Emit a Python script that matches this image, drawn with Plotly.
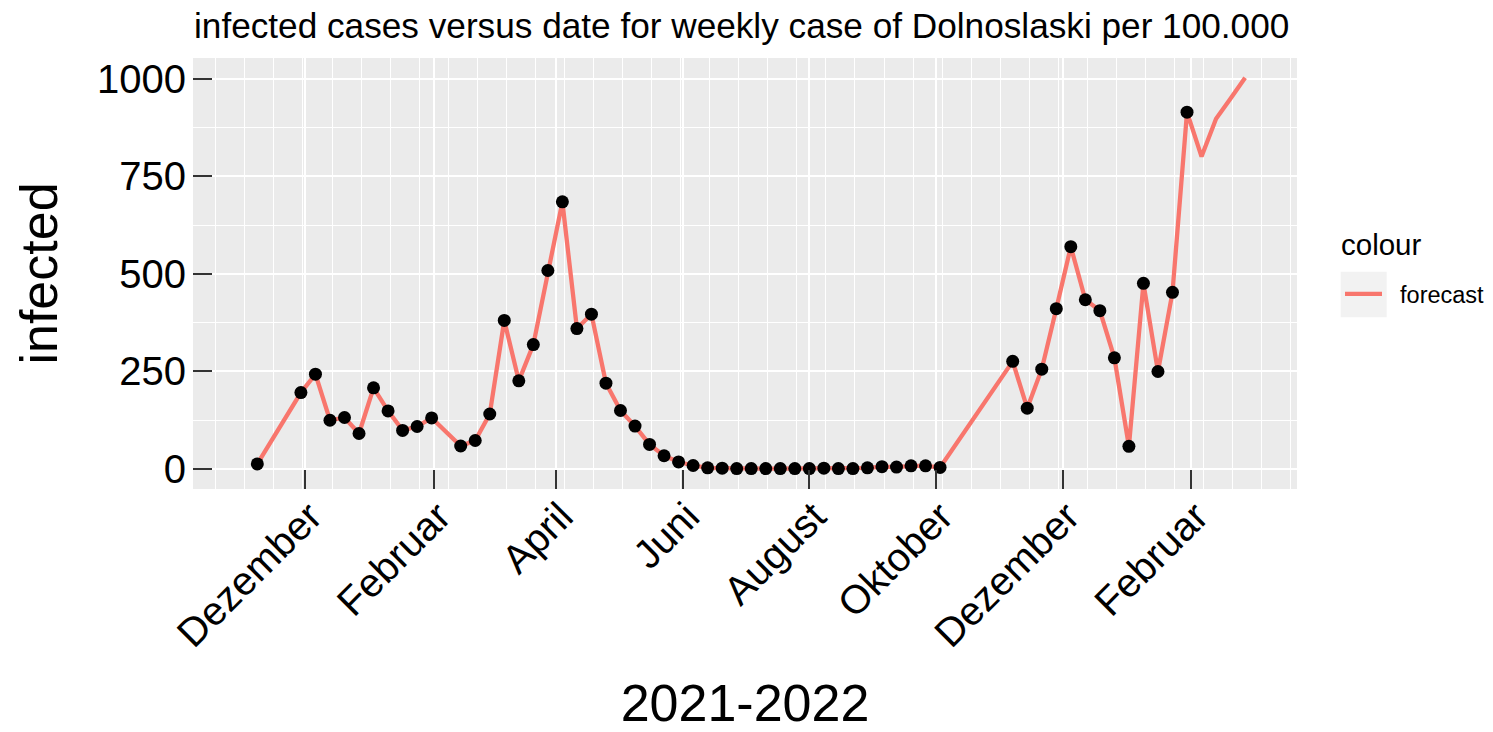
import plotly.graph_objects as go
import pandas as pd

# ---- observed weekly data (points) ----
obs_dates = [
    "2020-11-08", "2020-11-29", "2020-12-06", "2020-12-13", "2020-12-20", "2020-12-27",
    "2021-01-03", "2021-01-10", "2021-01-17", "2021-01-24", "2021-01-31",
    "2021-02-14", "2021-02-21", "2021-02-28", "2021-03-07", "2021-03-14", "2021-03-21",
    "2021-03-28", "2021-04-04", "2021-04-11", "2021-04-18", "2021-04-25",
    "2021-05-02", "2021-05-09", "2021-05-16", "2021-05-23", "2021-05-30",
    "2021-06-06", "2021-06-13", "2021-06-20", "2021-06-27", "2021-07-04", "2021-07-11",
    "2021-07-18", "2021-07-25", "2021-08-01", "2021-08-08", "2021-08-15", "2021-08-22",
    "2021-08-29", "2021-09-05", "2021-09-12", "2021-09-19", "2021-09-26", "2021-10-03",
    "2021-11-07", "2021-11-14", "2021-11-21", "2021-11-28", "2021-12-05", "2021-12-12",
    "2021-12-19", "2021-12-26", "2022-01-02", "2022-01-09", "2022-01-16", "2022-01-23",
    "2022-01-30",
]
obs_values = [
    13, 196, 243, 125, 132, 91,
    208, 149, 99, 109, 131,
    59, 73, 141, 381, 226, 319,
    509, 685, 360, 397, 220,
    150, 110, 63, 34, 18,
    9, 3, 2, 1, 1, 1,
    1, 1, 1, 2, 1, 1,
    3, 6, 5, 8, 8, 4,
    276, 156, 256, 411, 570, 434,
    406, 285, 58, 476, 250, 453,
    915,
]

# ---- forecast continuation (line only) ----
fc_dates = ["2022-02-06", "2022-02-13", "2022-02-20", "2022-02-27"]
fc_values = [801, 898, 950, 1003]

# ---- axis ticks ----
x_tick_dates = ["2020-12-01", "2021-02-01", "2021-04-01", "2021-06-01",
                "2021-08-01", "2021-10-01", "2021-12-01", "2022-02-01"]
x_tick_labels = ["Dezember", "Februar", "April", "Juni",
                 "August", "Oktober", "Dezember", "Februar"]
y_ticks = [0, 250, 500, 750, 1000]

line_dates = pd.to_datetime(obs_dates + fc_dates)
line_values = obs_values + fc_values

FONT = "Liberation Sans, Arial, sans-serif"
RED = "#F8766D"
NBSP = "\u00a0"

fig = go.Figure()
fig.add_trace(go.Scatter(
    x=line_dates, y=line_values, mode="lines", name=NBSP * 2 + "forecast",
    line=dict(color=RED, width=4.3), showlegend=True,
))
fig.add_trace(go.Scatter(
    x=pd.to_datetime(obs_dates), y=obs_values, mode="markers",
    marker=dict(color="black", size=13, line=dict(width=0)),
    showlegend=False,
))

# page body has an 8px margin: work in screen pixels and subtract it
OFF = 8
W, H = 1493 - OFF, 732 - OFF
PL, PR, PT, PB = 193, 1297, 58, 489          # panel edges in screen px
L, T = PL - OFF, PT - OFF
R, B = W - (PR - OFF), H - (PB - OFF)
pw = PR - PL
ph = PB - PT

def px_x(x):
    return (x - PL) / pw

def px_y(y):
    return 1 - (y - PT) / ph

fig.update_layout(
    width=W, height=H,
    margin=dict(l=L, r=R, t=T, b=B, autoexpand=False),
    paper_bgcolor="white",
    plot_bgcolor="#EBEBEB",
    font=dict(family=FONT, color="black"),
    title=dict(
        text="infected cases versus date for weekly case of Dolnoslaski per 100.000",
        font=dict(size=35.2, family=FONT, color="black"),
        x=(194 - OFF) / W, xanchor="left", xref="container",
        y=1 - 5 / H, yanchor="top", yref="container",
        pad=dict(t=0, b=0, l=0, r=0),
    ),
    xaxis=dict(
        type="date",
        range=["2020-10-08", "2022-03-24"],
        tickvals=pd.to_datetime(x_tick_dates),
        ticktext=x_tick_labels,
        tickangle=-45,
        tickfont=dict(size=40, family=FONT, color="black"),
        ticks="inside", ticklen=19, tickwidth=2, tickcolor="#333333",
        showgrid=True, gridcolor="white", gridwidth=2.2,
        minor=dict(dtick=14 * 86400000, tick0="2020-10-19", showgrid=True,
                   gridcolor="white", gridwidth=1.1, ticks=""),
        zeroline=False, showline=False,
        title=dict(text="2021-2022", font=dict(size=52, family=FONT, color="black"),
                   standoff=41),
        automargin=False,
        ticklabelstandoff=-5,
        ticklabelshift=5,
    ),
    yaxis=dict(
        range=[-51.3, 1053.8],
        tickvals=y_ticks,
        tickfont=dict(size=40, family=FONT, color="black"),
        ticks="inside", ticklen=19, tickwidth=2, tickcolor="#333333",
        showgrid=True, gridcolor="white", gridwidth=2.2,
        minor=dict(dtick=125, tick0=0, showgrid=True, gridcolor="white",
                   gridwidth=1.1, ticks=""),
        zeroline=False, showline=False,
        title=dict(text="infected", font=dict(size=52, family=FONT, color="black"),
                   standoff=22),
        automargin=False,
        ticklabelstandoff=6,
    ),
    legend=dict(
        font=dict(size=23.5, family=FONT, color="black"),
        x=px_x(1340), xanchor="left",
        y=px_y(294), yanchor="middle",
        bgcolor="rgba(0,0,0,0)",
        itemwidth=37,
    ),
    annotations=[dict(
        text="colour", xref="paper", yref="paper",
        x=px_x(1339), xanchor="left", y=px_y(244), yanchor="middle",
        showarrow=False, font=dict(size=29.5, family=FONT, color="black"),
    )],
    shapes=[dict(
        type="rect", xref="paper", yref="paper",
        x0=px_x(1340.7), x1=px_x(1386.7), y0=px_y(317.3), y1=px_y(271.7),
        fillcolor="#F2F2F2", line=dict(width=0), layer="below",
    )],
)

fig.write_html("out.html")
